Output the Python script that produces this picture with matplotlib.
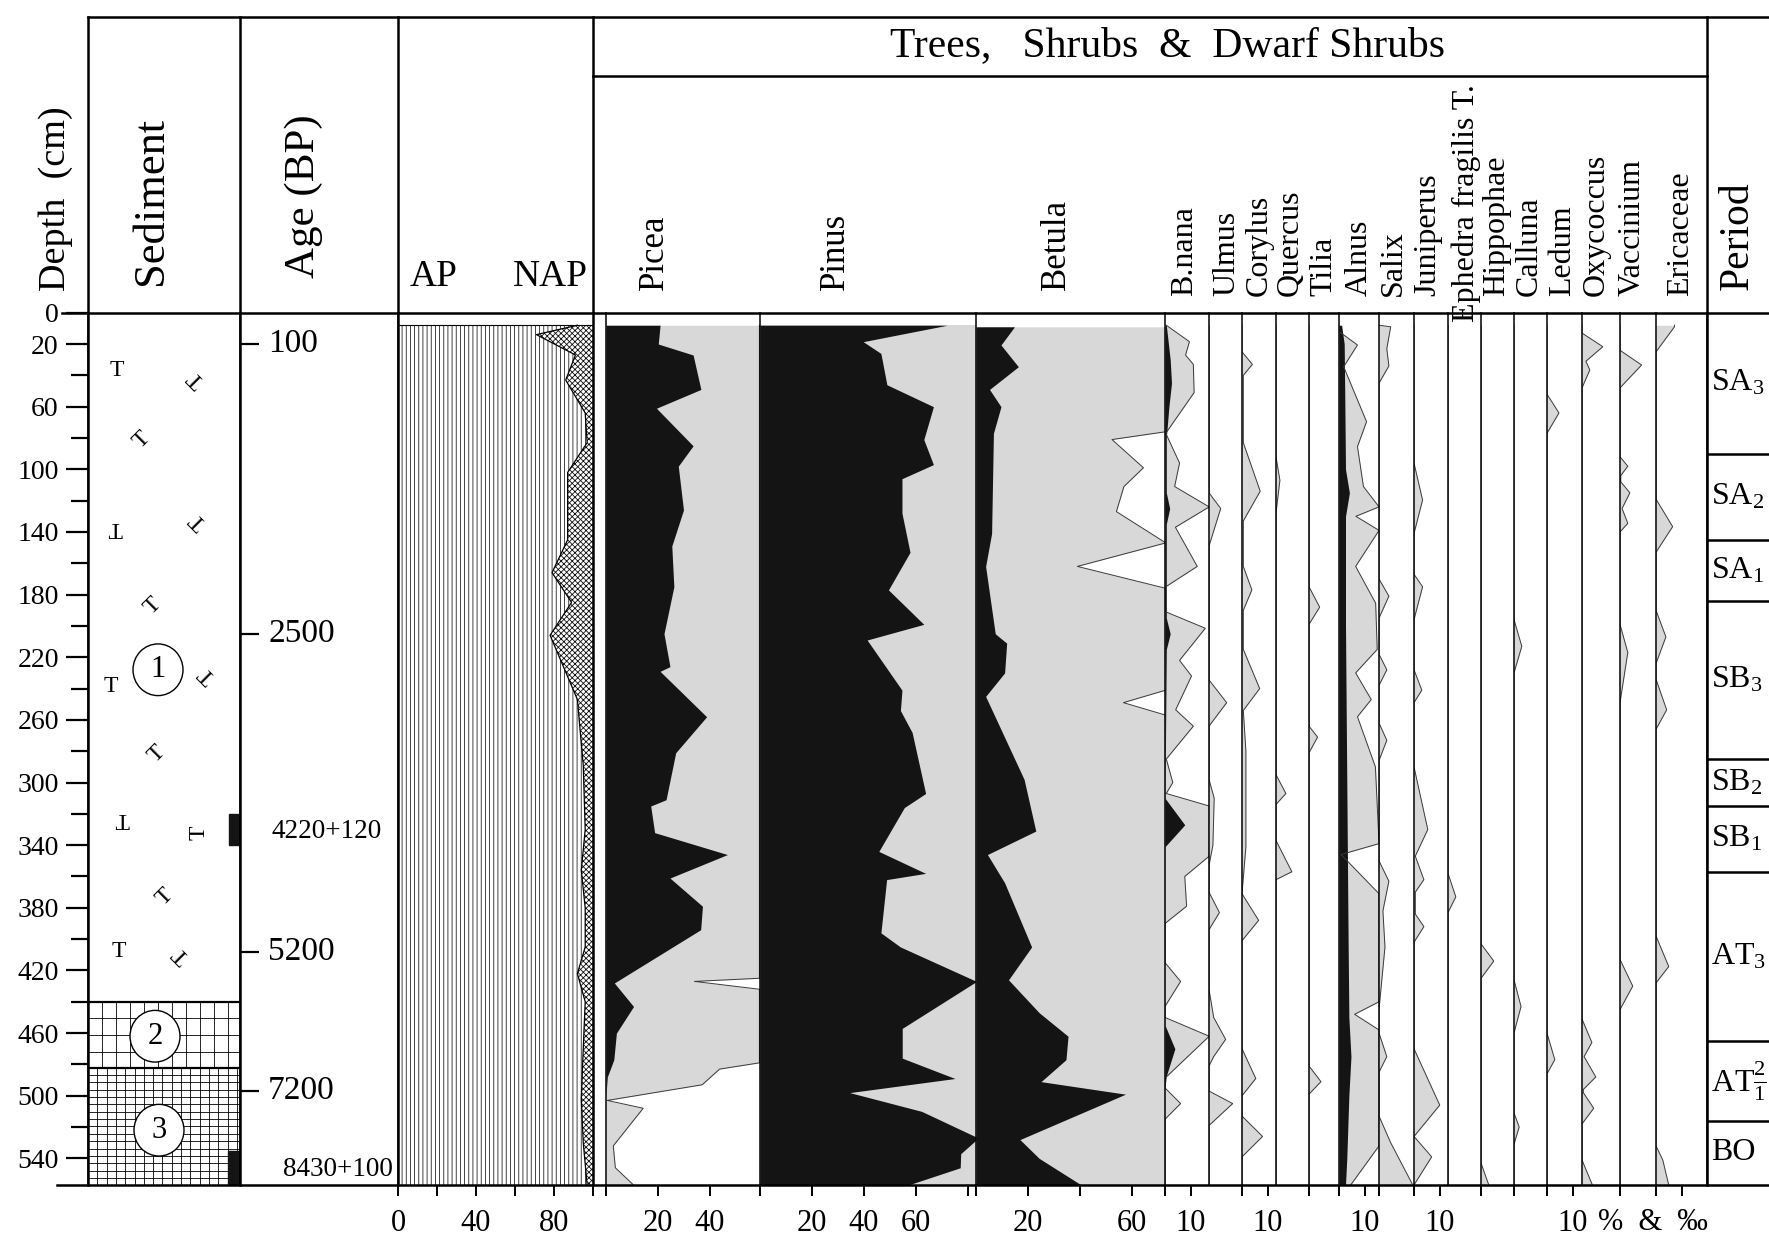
import matplotlib
matplotlib.use("Agg")
import numpy as np
import matplotlib.pyplot as plt
from matplotlib.patches import Ellipse, Rectangle

# ---------------- data: depth (cm) and percentages ----------------
ap_depth = [8, 14, 27, 43, 64, 83, 102, 145, 166, 185, 206, 247, 289, 330, 356, 380, 405, 422, 440, 470, 502, 530, 557]
ap_pct = [92, 71, 91, 86, 96, 97, 87, 87, 79, 89, 78, 92, 95, 96, 94, 96, 96, 92, 96, 95, 94, 95, 97]

picea_depth = [8, 20, 27, 49, 61, 85, 98, 126, 149, 175, 205, 226, 229, 258, 281, 311, 315, 332, 346, 361,
               379, 394, 428, 443, 460, 477, 488, 500, 557]
picea_pct = [20.8, 20.1, 33.5, 36.5, 19.4, 33.5, 27.8, 29.8, 25.3, 26.1, 22.3, 24.6, 20.8, 38.7, 26.8, 23.1,
             17.2, 18.7, 46.7, 24.6, 37.1, 36.4, 3.2, 10.6, 4, 3, 0.5, 0, 0]
picea_exag_depth = [8, 425, 427, 432, 479, 483, 493, 503, 508, 532, 546, 557]
picea_exag = [59, 59, 34, 59, 59, 43.7, 37, 0.5, 14.3, 2.8, 3.6, 10.6]

pinus_depth = [8, 18.5, 26, 46, 60, 81, 97, 106, 128, 153, 177, 199, 209, 241, 254, 268, 307, 316, 344, 358,
               362, 396, 405, 427, 457, 476, 489, 498, 510, 527, 537, 546, 557]
pinus_pct = [72, 39.7, 46.5, 48.8, 66.7, 63, 66.7, 54.6, 54.6, 57.7, 49.4, 63, 41.2, 54.6, 54, 58.5, 63.7, 55.5,
             45.7, 63.7, 48.7, 46.5, 54, 83.3, 54.7, 54.7, 75, 34.5, 62.2, 84, 77.2, 77, 57]
pinus_exag_depth = [8, 557]
pinus_exag = [83, 83]

betula_depth = [9, 20.6, 34.5, 49, 60, 77, 141, 162, 205, 211, 230, 245, 298, 331, 346, 364, 405, 426, 447, 462,
                477, 491, 499, 528, 540, 557]
betula_pct = [14.8, 9.6, 16.3, 5.2, 9.6, 6.7, 6, 3.7, 7.4, 11.8, 11, 3.7, 18.5, 23, 4.4, 11, 21.4, 12.5, 24.3,
              35.4, 34.6, 25, 57.5, 16.9, 24.3, 40.5]
betula_exag_depth = [9, 76, 81, 99, 111, 127, 147, 162, 176, 241, 249, 257, 557]
betula_exag = [73, 73, 52.3, 64.4, 56.9, 54, 73, 39, 73, 73, 56.7, 73, 73]

bnana_depth = [8, 18.5, 27, 33, 51, 77, 96, 111, 124, 137, 162, 175, 191, 201.5, 222, 232, 253.6, 264, 285, 300,
               307, 315, 347, 360, 379, 390, 415, 427, 443, 450, 462, 488, 495, 505, 515, 557]
bnana_pct = [0.5, 9.4, 7.9, 10.9, 11.2, 0.3, 5.6, 3.7, 17, 4, 12.4, 0.3, 0.3, 15.5, 5.6, 10.2, 4.1, 10.9, 0.5, 3,
             0.5, 17, 17, 7.6, 8.3, 0, 0, 6, 0, 0, 17, 0.5, 0, 6, 0, 0]
bnana_black_depth = [8, 30, 45, 60, 80, 115, 125, 135, 195, 205, 215, 310, 327, 341, 455, 470, 490, 557]
bnana_black_pct = [0.5, 2, 2.5, 1.5, 0.5, 0.5, 1.8, 0.5, 0.5, 2, 0.5, 0, 7.6, 0, 0, 3.8, 0, 0]

ulmus_depth = [8, 115, 125, 149, 234.5, 249, 264, 298, 310, 340, 353, 370, 383, 394, 432, 450, 464, 475, 481,
               497, 505, 519, 557]
ulmus_pct = [0, 0, 4.5, 0, 0, 6.8, 0, 0, 2, 1.5, 0, 0, 4, 0, 0, 1.8, 6.4, 1.8, 0, 0, 9.1, 0, 0]

corylus_depth = [8, 25, 33, 40, 83, 114, 133, 162, 177, 190, 215, 240, 254, 280, 300, 341, 371, 388, 401, 470,
                 489, 500, 513, 526, 539, 557]
corylus_pct = [0, 0, 4, 0.5, 0.5, 7, 0.5, 0.5, 3.8, 0.5, 0.5, 6.8, 0.5, 1.5, 1.5, 1.5, 0, 6.4, 0, 0, 5.3, 0, 0,
               7.9, 0, 0]

quercus_depth = [8, 92, 107, 128, 295, 307, 314, 337, 357, 362, 557]
quercus_pct = [0, 0, 1.5, 0, 0, 3.8, 0, 0, 6.1, 0, 0]

tilia_depth = [8, 175, 188, 199, 264, 271, 281, 481, 491, 499, 557]
tilia_pct = [0, 0, 4.1, 0, 0, 3.3, 0, 0, 4.6, 0, 0]

alnus_depth = [8, 12, 20.6, 34.5, 69.6, 85.5, 111, 124, 130, 139, 162, 185.5, 215, 230, 247, 258, 290, 339, 346,
               371, 440, 448, 458, 532, 557]
alnus_pct = [0, 0, 7.1, 1.8, 10.6, 7.1, 9.4, 15.4, 6.5, 15.4, 6.4, 14.1, 14.7, 6.4, 12.4, 7.1, 14, 15.4, 0.8,
             15.4, 15.4, 6, 15.4, 15.4, 4.5]
alnus_black_depth = [8, 20, 50, 100, 115, 130, 200, 300, 400, 450, 475, 500, 540, 557]
alnus_black_pct = [1, 2, 2.2, 2.5, 4, 2.5, 2.5, 3, 3.5, 3.8, 4.6, 3.8, 3, 2.5]

salix_depth = [8, 9, 23, 34, 45, 170, 181, 195, 218, 228, 238, 262, 273, 286, 350, 363, 382, 405, 445, 460, 475,
               485, 513, 530, 557]
salix_pct = [0, 4.5, 3, 3.8, 0, 0, 3.8, 0, 0, 3, 0, 0, 3, 0, 0, 3.8, 1.5, 2.3, 0, 0, 3, 0, 0, 4.5, 13]

juniperus_depth = [8, 96, 119.6, 141, 167, 175, 196, 228, 241, 249, 290, 330, 347, 362, 370, 384, 392, 402, 470,
                   506, 526, 539, 557]
juniperus_pct = [0, 0, 3.3, 0, 0, 3.3, 0, 0, 3, 0, 0, 5.3, 0.5, 3.8, 0.5, 0.5, 3.8, 0, 0, 9.9, 0, 6.8, 0]

ephedra_depth = [8, 358, 373, 383, 557]
ephedra_pct = [0, 0, 3, 0, 0]

hippophae_depth = [8, 403, 414, 425, 543, 557]
hippophae_pct = [0, 0, 4.9, 0, 0, 3]

calluna_depth = [8, 196, 213, 230, 426, 443, 460, 511, 520, 531, 557]
calluna_pct = [0, 0, 3, 0, 0, 2.7, 0, 0, 2, 0, 0]

ledum_depth = [8, 52, 64, 77, 460, 477, 486, 557]
ledum_pct = [0, 0, 4.6, 0, 0, 3, 0, 0]

oxycoccus_depth = [8, 13, 21.7, 31, 36.6, 48, 451, 466, 475, 488, 496, 498, 508, 518, 541, 557]
oxycoccus_pct = [0, 0, 8, 1.5, 3, 0, 0, 3.8, 0.8, 5.3, 0.5, 0.5, 4.5, 0, 0, 4]

vaccinium_depth = [8, 24, 33.4, 48, 92, 98, 104, 108, 115, 125, 134.5, 140, 199, 217, 249, 413, 430, 445, 557]
vaccinium_pct = [0, 0, 8.3, 0, 0, 3, 0.3, 0.3, 3.8, 0.8, 3, 0, 0, 3, 0, 0, 4.9, 0, 0]

ericaceae_depth = [8, 9, 25, 119, 136.6, 153, 190, 207, 224, 234, 253.6, 266, 398, 417.5, 428, 532, 541, 557]
ericaceae_pct = [7.1, 7.1, 0, 0, 6.4, 0, 0, 3.8, 0, 0, 4.1, 0, 0, 4.9, 0, 0, 2.6, 4.9]

depth_major = [0] + list(range(20, 541, 40))
depth_minor = list(range(40, 521, 40))
age_depth = [20, 205, 408, 497]
age_labels = ["100", "2500", "5200", "7200"]
c14_depth = [331, 547]
c14_labels = ["4220+120", "8430+100"]
c14_box = [(320, 340), (535, 557)]
layer_bounds = [0, 440, 482, 557]
period_bounds = [0, 90, 145, 184, 285, 315, 357, 465, 516, 557]
period_labels = ["SA$_3$", "SA$_2$", "SA$_1$", "SB$_3$", "SB$_2$", "SB$_1$", "AT$_3$",
                 r"AT$\frac{2}{1}$", "BO"]

# ---------------- layout ----------------
W, H = 1769, 1239
TOP, ZERO, BOT = 17, 312.7, 1185
DMAX = 557
PX = 2.6
GREY = "#d8d8d8"
INK = "#141414"
LW = 1.8

plt.rcParams["font.family"] = ["Liberation Serif", "DejaVu Serif"]
plt.rcParams["mathtext.fontset"] = "custom"
plt.rcParams["mathtext.rm"] = "Liberation Serif"
plt.rcParams["mathtext.it"] = "Liberation Serif:italic"
plt.rcParams["hatch.linewidth"] = 0.6

fig = plt.figure(figsize=(W / 100, H / 100), dpi=100)


def column(x0, x1, xmax=None):
    ax = fig.add_axes([x0 / W, 1 - BOT / H, (x1 - x0) / W, (BOT - ZERO) / H])
    ax.set_ylim(DMAX, 0)
    ax.set_xlim(0, xmax if xmax else (x1 - x0) / PX)
    ax.patch.set_visible(False)
    for s in ("top", "right", "bottom"):
        ax.spines[s].set_visible(False)
    ax.spines["left"].set_linewidth(1.1)
    ax.set_yticks([])
    ax.set_xticks([])
    ax.tick_params(axis="x", direction="out", length=8, width=1.4, labelsize=22, pad=9)
    return ax


def pollen(ax, depth, vals, bdepth=None, bvals=None):
    ax.fill_betweenx(depth, 0, vals, color=GREY, lw=0)
    ax.plot(vals, depth, color="#3a3a3a", lw=0.7)
    if bdepth is not None:
        ax.fill_betweenx(bdepth, 0, bvals, color=INK, lw=0)


# sediment column
ax_sed = column(88, 240, xmax=152)
ax_sed.set_yticks(depth_major)
ax_sed.set_yticklabels([str(d) for d in depth_major])
ax_sed.set_yticks(depth_minor, minor=True)
ax_sed.tick_params(axis="y", which="major", direction="out", length=16, width=1.6, labelsize=20, pad=5)
ax_sed.tick_params(axis="y", which="minor", direction="out", length=12, width=1.6)
ax_sed.hlines(layer_bounds[1:3], 0, 152, color="k", lw=1.6)
for yy in np.arange(layer_bounds[1] + 10.6, layer_bounds[2], 10.6):
    ax_sed.hlines(yy, 0, 152, color="k", lw=0.6)
ax_sed.vlines(np.arange(14, 152, 14), layer_bounds[1], layer_bounds[2], color="k", lw=0.6)
for yy in np.arange(layer_bounds[2] + 4.7, DMAX, 4.7):
    ax_sed.hlines(yy, 0, 152, color="k", lw=0.6)
ax_sed.vlines(np.arange(9.3, 152, 9.3), layer_bounds[2], DMAX, color="k", lw=0.6)
for (d0, d1), w in zip(c14_box, [11, 12]):
    ax_sed.add_patch(Rectangle((152 - w, d0), w, d1 - d0, color=INK, zorder=3))
sym_x = [29, 109, 54, 27, 111, 65, 23, 120, 69, 34, 111, 77, 31, 94]
sym_d = [37, 42, 81, 137, 133, 187, 239, 231, 282, 323, 332, 373, 408, 410]
sym_rot = [0, 135, 45, 180, 135, 45, 0, 135, 45, 180, 90, 45, 0, 135]
for x, d, r in zip(sym_x, sym_d, sym_rot):
    ax_sed.text(x, d, "T", rotation=r, rotation_mode="anchor", ha="center", va="center", fontsize=17)
for num, (x, d) in zip(["1", "2", "3"], [(70, 228), (67, 462), (71, 522)]):
    ax_sed.add_patch(Ellipse((x, d), 50, 33, facecolor="white", edgecolor="k", lw=1.0, zorder=4))
    ax_sed.text(x, d, num, ha="center", va="center", fontsize=22, zorder=5)

# age column
ax_age = column(240, 398, xmax=158)
ax_age.set_yticks(age_depth)
ax_age.set_yticklabels([])
ax_age.tick_params(axis="y", direction="in", length=14, width=1.6)
for d, lab in zip(age_depth, age_labels):
    ax_age.text(28, d, lab, va="center", ha="left", fontsize=24)
for d, lab, x in zip(c14_depth, c14_labels, [31, 43]):
    ax_age.text(x, d, lab, va="center", ha="left", fontsize=19.5)

# AP / NAP
ax_ap = column(398, 593, xmax=100)
ax_ap.fill_betweenx(ap_depth, 0, ap_pct, facecolor="white", edgecolor="#222222", hatch="||||", lw=0)
ax_ap.fill_betweenx(ap_depth, ap_pct, 100, facecolor="white", edgecolor="#111111", hatch="xxxxxx", lw=0)
ax_ap.plot(ap_pct, ap_depth, color="k", lw=0.9)
ax_ap.plot([0, 100], [ap_depth[0], ap_depth[0]], color="k", lw=0.8)
ax_ap.set_xticks([0, 20, 40, 60, 80, 100])
ax_ap.set_xticklabels(["0", "", "40", "", "80", ""])

# main trees
ax_pic = column(606, 760)
pollen(ax_pic, picea_exag_depth, picea_exag, picea_depth, picea_pct)
ax_pic.set_xticks([0, 20, 40])
ax_pic.set_xticklabels(["", "20", "40"])

ax_pin = column(760, 976)
pollen(ax_pin, pinus_exag_depth, pinus_exag, pinus_depth, pinus_pct)
ax_pin.set_xticks([0, 20, 40, 60, 80])
ax_pin.set_xticklabels(["", "20", "40", "60", ""])

ax_bet = column(976, 1165)
pollen(ax_bet, betula_exag_depth, betula_exag, betula_depth, betula_pct)
ax_bet.set_xticks([0, 20, 40, 60])
ax_bet.set_xticklabels(["", "20", "", "60"])

# minor shrubs / dwarf shrubs
small_edges = [1165, 1209, 1242, 1276, 1309, 1339, 1379, 1414, 1448, 1481, 1514, 1547, 1582, 1620, 1656, 1707]
small_series = [
    (bnana_depth, bnana_pct, bnana_black_depth, bnana_black_pct),
    (ulmus_depth, ulmus_pct, None, None),
    (corylus_depth, corylus_pct, None, None),
    (quercus_depth, quercus_pct, None, None),
    (tilia_depth, tilia_pct, None, None),
    (alnus_depth, alnus_pct, alnus_black_depth, alnus_black_pct),
    (salix_depth, salix_pct, None, None),
    (juniperus_depth, juniperus_pct, None, None),
    (ephedra_depth, ephedra_pct, None, None),
    (hippophae_depth, hippophae_pct, None, None),
    (calluna_depth, calluna_pct, None, None),
    (ledum_depth, ledum_pct, None, None),
    (oxycoccus_depth, oxycoccus_pct, None, None),
    (vaccinium_depth, vaccinium_pct, None, None),
    (ericaceae_depth, ericaceae_pct, None, None),
]
small_ticks = [[0, 10], [], [0, 10], [], [0], [0, 10], [0], [0, 10], [], [0], [0], [0, 10], [], [0], [0, 10]]
small_ticklabels = [["", "10"], [], ["", "10"], [], [""], ["", "10"], [""], ["", "10"], [], [""], [""],
                    ["", "10"], [], [""], ["", ""]]
for i, (d, v, bd, bv) in enumerate(small_series):
    ax = column(small_edges[i], small_edges[i + 1])
    pollen(ax, d, v, bd, bv)
    ax.set_xticks(small_ticks[i])
    ax.set_xticklabels(small_ticklabels[i])

# period column
ax_per = column(1707, W, xmax=62)
ax_per.set_xticks([])
ax_per.hlines(period_bounds[1:-1], 0, 62, color="k", lw=LW)
for (d0, d1), lab in zip(zip(period_bounds[:-1], period_bounds[1:]), period_labels):
    ax_per.text(4, (d0 + d1) / 2, lab, ha="left", va="center", fontsize=23)

# ---------------- frame, headers ----------------
ov = fig.add_axes([0, 0, 1, 1])
ov.set_xlim(0, W)
ov.set_ylim(H, 0)
ov.axis("off")
ov.plot([88, W], [TOP, TOP], color="k", lw=LW)
ov.plot([593, 1707], [75.6, 75.6], color="k", lw=LW)
ov.plot([62, W], [ZERO, ZERO], color="k", lw=LW)
ov.plot([57, W], [BOT, BOT], color="k", lw=LW)
for x in [88, 240, 398, 593, 1707]:
    ov.plot([x, x], [TOP, BOT], color="k", lw=LW)

ov.text(56, 291, "Depth  (cm)", rotation=90, ha="center", va="bottom", fontsize=27.5)
ov.text(151, 285, "Sediment", rotation=90, ha="center", va="bottom", fontsize=32)
ov.text(304, 278, "Age (BP)", rotation=90, ha="center", va="bottom", fontsize=31)
ov.text(434, 286, "AP", ha="center", va="baseline", fontsize=27)
ov.text(550, 286, "NAP", ha="center", va="baseline", fontsize=27)
ov.text(1738, 290, "Period", rotation=90, ha="center", va="bottom", fontsize=30)
ov.text(1168, 56, "Trees,   Shrubs  &  Dwarf Shrubs", ha="center", va="baseline", fontsize=30)

taxa = ["Picea", "Pinus", "Betula", "B.nana", "Ulmus", "Corylus", "Quercus", "Tilia", "Alnus", "Salix",
        "Juniperus", "Ephedra fragilis T.", "Hippophae", "Calluna", "Ledum", "Oxycoccus", "Vaccinium", "Ericaceae"]
taxa_x = [654, 835, 1056, 1185, 1227, 1259, 1290, 1324, 1359, 1393, 1428, 1466, 1497, 1529, 1563, 1596, 1632, 1681]
for name, x in zip(taxa, taxa_x):
    big = name in ("Picea", "Pinus", "Betula")
    yb = 290 if big else (322 if name.startswith("Ephedra") else 296)
    ov.text(x, yb, name, rotation=90, ha="center", va="bottom", fontsize=25 if big else 23)

ov.text(1598, 1222, "%  &  \u2030", ha="left", va="center", fontsize=22)

fig.savefig("out.png", dpi=100)
